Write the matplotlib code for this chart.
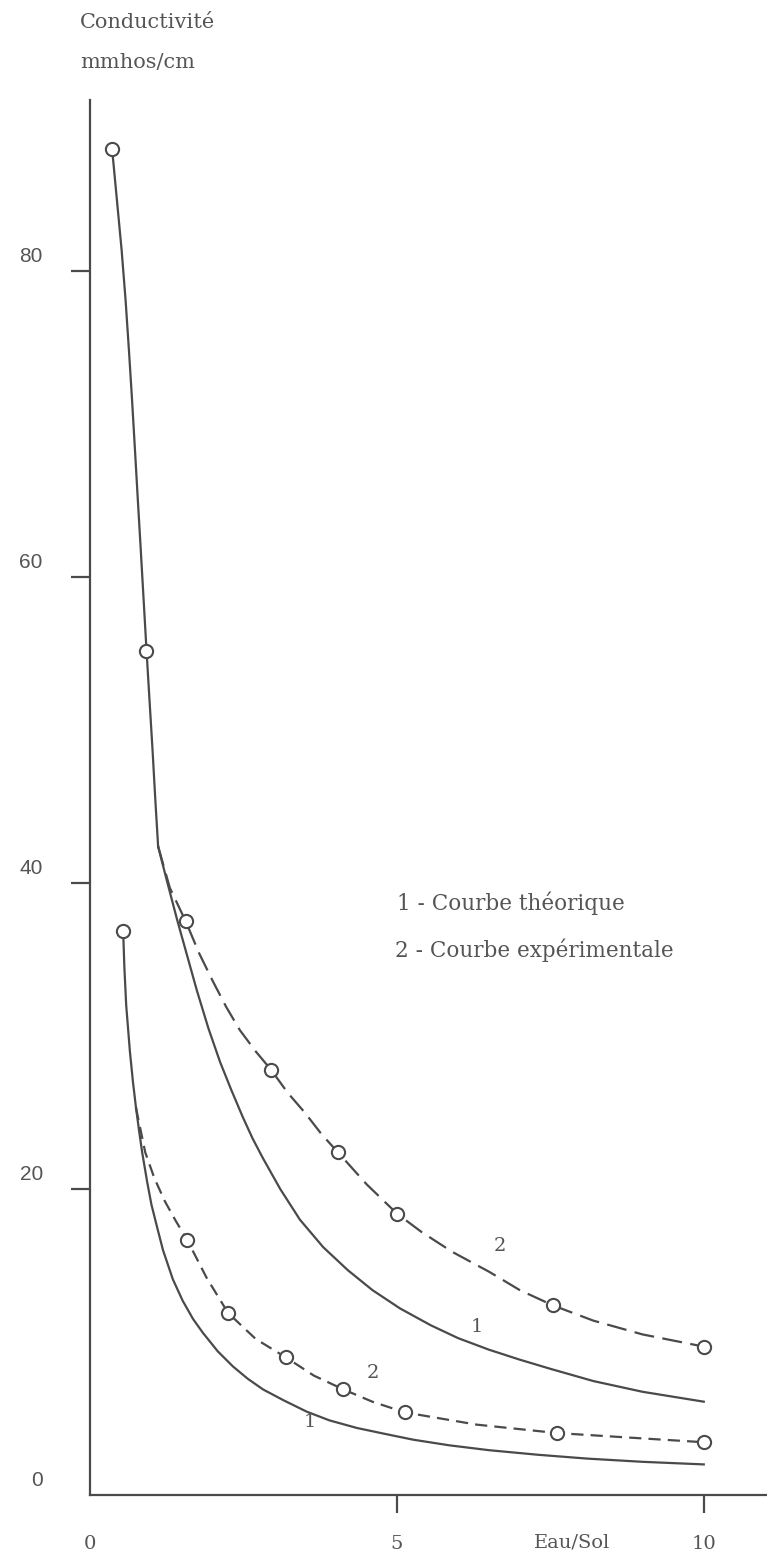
import matplotlib
matplotlib.use('Agg')
import matplotlib.pyplot as plt
from matplotlib.transforms import ScaledTranslation

# courbe expérimentale, valeurs mesurées (cercles)
exp_hi_x = [0.36, 0.92, 1.56, 2.95, 4.04, 5.0, 7.54, 10.0]
exp_hi_y = [88.0, 55.2, 37.5, 27.8, 22.4, 18.4, 12.4, 9.7]
exp_lo_x = [0.54, 1.58, 2.25, 3.19, 4.13, 5.13, 7.61, 10.0]
exp_lo_y = [36.9, 16.7, 11.9, 9.0, 6.9, 5.4, 4.05, 3.45]

# tronc commun (trait plein) avant la séparation des deux courbes
common_hi_x = [0.36, 0.44, 0.515, 0.58, 0.635, 0.685, 0.733, 0.78, 0.827, 0.874, 0.921, 0.969,
               1.019, 1.065, 1.11]
common_hi_y = [88.0, 84.6, 81.4, 78.1, 74.8, 71.6, 68.3, 65.0, 61.8, 58.5, 55.2, 52.0,
               48.7, 45.4, 42.4]
common_lo_x = [0.54, 0.56, 0.59, 0.62, 0.65, 0.70, 0.75]
common_lo_y = [36.9, 34.5, 32.0, 30.5, 29.0, 27.0, 25.3]

# courbe théorique (1)
theo_hi_x = [1.11, 1.25, 1.42, 1.58, 1.74, 1.93, 2.12, 2.30, 2.49, 2.65, 2.82, 3.10, 3.42, 3.80,
             4.20, 4.60, 5.05, 5.55, 6.00, 6.50, 7.00, 7.50, 8.20, 9.00, 10.0]
theo_hi_y = [42.4, 40.2, 37.6, 35.3, 33.0, 30.5, 28.3, 26.5, 24.7, 23.3, 22.0, 20.0, 18.0, 16.2,
             14.7, 13.4, 12.2, 11.1, 10.25, 9.5, 8.85, 8.25, 7.45, 6.75, 6.1]
theo_lo_x = [0.75, 0.80, 0.85, 0.93, 1.00, 1.10, 1.19, 1.35, 1.51, 1.68, 1.84, 2.08, 2.33, 2.57, 2.82,
             3.15, 3.53, 3.90, 4.35, 4.80, 5.26, 5.85, 6.50, 7.30, 8.10, 9.00, 10.0]
theo_lo_y = [25.3, 23.8, 22.4, 20.5, 19.0, 17.4, 16.0, 14.1, 12.7, 11.5, 10.6, 9.4, 8.4, 7.6, 6.9,
             6.2, 5.45, 4.88, 4.38, 4.0, 3.62, 3.25, 2.93, 2.63, 2.38, 2.17, 2.0]

# tracé de la courbe expérimentale (2), en tirets
dash_hi_x = [1.11, 1.30, 1.56, 1.78, 2.0, 2.22, 2.44, 2.70, 2.95, 3.22, 3.50, 3.77, 4.04, 4.51, 5.0,
             5.40, 5.90, 6.50, 7.00, 7.54, 8.20, 9.00, 10.0]
dash_hi_y = [42.4, 39.7, 37.5, 35.4, 33.6, 31.9, 30.4, 29.0, 27.8, 26.3, 25.0, 23.6, 22.4, 20.3, 18.4,
             17.2, 15.9, 14.6, 13.4, 12.4, 11.4, 10.5, 9.7]
dash_lo_x = [0.75, 0.90, 1.05, 1.22, 1.40, 1.58, 1.90, 2.25, 2.70, 3.19, 3.65, 4.13, 4.60, 5.13,
             6.30, 7.61, 8.80, 10.0]
dash_lo_y = [25.3, 22.4, 20.7, 19.2, 17.9, 16.7, 14.2, 11.9, 10.2, 9.0, 7.8, 6.9, 6.1, 5.4,
             4.6, 4.05, 3.75, 3.45]

x_ticks = [0, 5, 10]
y_ticks = [0, 20, 40, 60, 80]

ink = '#4a4a4a'
txt = '#555555'
serif = 'DejaVu Serif'

fig = plt.figure(figsize=(7.67, 15.57), dpi=100)
ax = fig.add_axes([90 / 767, 62 / 1557, 677 / 767, 1395 / 1557])
ax.set_xlim(0, 11.03)
ax.set_ylim(0, 91.2)

lw = 1.6
for cx, cy in [(common_hi_x, common_hi_y), (common_lo_x, common_lo_y),
               (theo_hi_x, theo_hi_y), (theo_lo_x, theo_lo_y)]:
    ax.plot(cx, cy, color=ink, lw=lw, solid_joinstyle='round')

ax.plot(dash_hi_x, dash_hi_y, color=ink, lw=lw, dashes=(9, 3.8))
ax.plot(dash_lo_x, dash_lo_y, color=ink, lw=lw, dashes=(5.5, 3.2))

for ex, ey in [(exp_hi_x, exp_hi_y), (exp_lo_x, exp_lo_y)]:
    ax.plot(ex, ey, ls='none', marker='o', ms=9.5, mfc='white', mec=ink, mew=1.5, zorder=3)

# numéros des courbes
ax.text(6.68, 16.3, '2', color=txt, fontsize=14, family=serif, ha='center', va='center')
ax.text(6.30, 11.0, '1', color=txt, fontsize=14, family=serif, ha='center', va='center')
ax.text(4.61, 8.0, '2', color=txt, fontsize=14, family=serif, ha='center', va='center')
ax.text(3.58, 4.8, '1', color=txt, fontsize=14, family=serif, ha='center', va='center')

# légende
ax.text(5.0, 38.7, '1 - Courbe théorique', color=txt, fontsize=15.5, family=serif, va='center')
ax.text(4.97, 35.6, '2 - Courbe expérimentale', color=txt, fontsize=15.5, family=serif, va='center')

# axes
for s in ['top', 'right']:
    ax.spines[s].set_visible(False)
for s in ['left', 'bottom']:
    ax.spines[s].set_color(ink)
    ax.spines[s].set_linewidth(1.6)

ax.set_xticks(x_ticks)
ax.set_xticklabels([str(v) for v in x_ticks], family=serif, fontsize=14, color=txt)
ax.set_yticks(y_ticks)
ax.set_yticklabels([str(v) for v in y_ticks], family='Liberation Sans', fontsize=15, color=txt)
ax.tick_params(axis='x', direction='out', length=13, width=1.6, color=ink, pad=16)
ax.tick_params(axis='y', direction='out', length=14, width=1.6, color=ink, pad=20)
ax.xaxis.get_major_ticks()[0].tick1line.set_visible(False)
ax.yaxis.get_major_ticks()[0].tick1line.set_visible(False)

up = ScaledTranslation(0, 17 / 100, fig.dpi_scale_trans)
for lab in ax.get_yticklabels():
    lab.set_transform(lab.get_transform() + up)

ax.text(7.85, -3.1, 'Eau/Sol', color=txt, fontsize=14, family=serif, ha='center', va='center', clip_on=False)

fig.text(80 / 767, 1 - 22 / 1557, 'Conductivité', color=txt, fontsize=15, family=serif, va='center')
fig.text(80 / 767, 1 - 62 / 1557, 'mmhos/cm', color=txt, fontsize=15, family=serif, va='center')

fig.savefig('out.png', dpi=100, facecolor='white')
